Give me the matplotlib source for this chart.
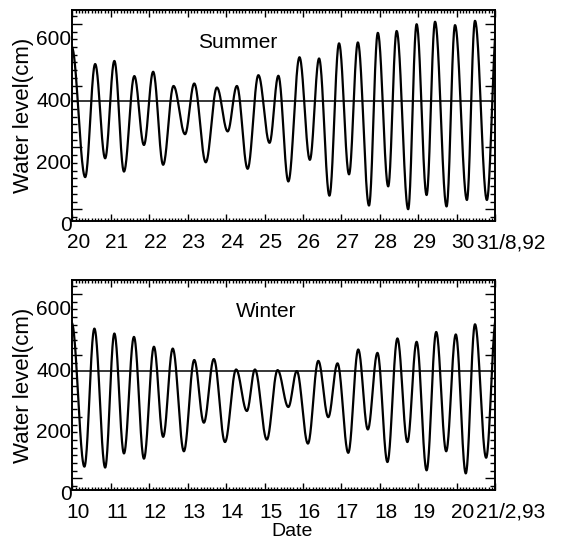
import numpy as np
import matplotlib
matplotlib.use("Agg")
import matplotlib.pyplot as plt
import matplotlib.transforms as mtransforms
from matplotlib.ticker import MultipleLocator

# times (day of month) and heights (cm) of successive high / low waters
summer_times = [19.98, 20.33, 20.59, 20.85, 21.09, 21.34, 21.61, 21.86, 22.10, 22.36,
                22.63, 22.93, 23.17, 23.47, 23.76, 24.04, 24.28, 24.56, 24.84, 25.13,
                25.36, 25.62, 25.91, 26.18, 26.42, 26.69, 26.94, 27.20, 27.43, 27.72,
                27.95, 28.22, 28.44, 28.74, 28.96, 29.22, 29.44, 29.74, 29.96, 30.27,
                30.48, 30.79, 31.05]
summer_levels = [525, 104, 470, 165, 480, 122, 431, 208, 445, 144,
                 399, 243, 407, 152, 394, 252, 399, 131, 434, 215,
                 432, 90, 492, 160, 488, 44, 537, 113, 540, 12,
                 571, 74, 577, 0, 599, 46, 607, 9, 596, 30,
                 610, 30, 600]

winter_times = [9.98, 10.31, 10.57, 10.85, 11.09, 11.34, 11.60, 11.86, 12.12, 12.36,
                12.61, 12.90, 13.17, 13.42, 13.68, 13.97, 14.26, 14.54, 14.75, 15.06,
                15.34, 15.62, 15.84, 16.13, 16.40, 16.66, 16.90, 17.18, 17.44, 17.69,
                17.94, 18.20, 18.46, 18.72, 18.96, 19.22, 19.47, 19.73, 19.98, 20.24,
                20.48, 20.77, 21.03]
winter_levels = [505, 38, 487, 35, 471, 81, 460, 64, 428, 135,
                 422, 88, 385, 181, 388, 118, 354, 219, 354, 126,
                 352, 232, 349, 113, 382, 199, 374, 83, 419, 159,
                 408, 53, 455, 118, 444, 26, 476, 88, 468, 16,
                 501, 67, 520]

mean_level = 350

summer_days = list(range(20, 31))
summer_last = "31/8,92"
winter_days = list(range(10, 21))
winter_last = "21/2,93"
level_ticks = [0, 200, 400, 600]


def tide_curve(times, levels, n=40):
    # half-cosine shape between each high and low water
    tt, hh = [], []
    for i in range(len(times) - 1):
        s = np.linspace(0, 1, n)
        tt.append(times[i] + (times[i + 1] - times[i]) * s)
        hh.append(levels[i] + (levels[i + 1] - levels[i]) * (1 - np.cos(np.pi * s)) / 2)
    return np.concatenate(tt), np.concatenate(hh)


def panel(fig, ax, times, levels, days, last, title, title_x):
    t, h = tide_curve(times, levels)
    ax.plot(t, h, color="black", lw=1.6)
    ax.axhline(mean_level, color="black", lw=1.1)

    ax.set_xlim(days[0], days[0] + 11)
    ax.set_ylim(-38, 645)
    ax.xaxis.set_major_locator(MultipleLocator(1))
    ax.xaxis.set_minor_locator(MultipleLocator(1 / 12))
    ax.yaxis.set_major_locator(MultipleLocator(200))
    ax.yaxis.set_minor_locator(MultipleLocator(25))
    ax.tick_params(which="both", direction="in", top=True, right=True,
                   labelbottom=False, labelleft=False, width=1)
    ax.tick_params(axis="x", which="major", length=5)
    ax.tick_params(axis="x", which="minor", length=2.5)
    ax.tick_params(axis="y", which="major", length=7)
    ax.tick_params(axis="y", which="minor", length=3.5)
    for sp in ax.spines.values():
        sp.set_linewidth(1.4)

    # tick labels sit a little off their ticks
    px = 1 / fig.dpi
    xtr = mtransforms.blended_transform_factory(ax.transData, ax.transAxes)
    for d in days:
        ax.text(d, 0, str(d), fontsize=15, ha="center", va="center",
                transform=xtr + mtransforms.ScaledTranslation(6 * px, -22 * px, fig.dpi_scale_trans))
    ax.text(days[0] + 11, 0, last, fontsize=15, ha="left", va="center",
            transform=xtr + mtransforms.ScaledTranslation(-19 * px, -22 * px, fig.dpi_scale_trans))
    ytr = mtransforms.blended_transform_factory(ax.transAxes, ax.transData)
    for v in level_ticks:
        ax.text(0, v, str(v), fontsize=15, ha="right", va="center",
                transform=ytr + mtransforms.ScaledTranslation(-1 * px, -16 * px, fig.dpi_scale_trans))

    ax.text(-0.115, 0.5, "Water level(cm)", fontsize=16, rotation=90,
            ha="center", va="center", transform=ax.transAxes)
    ax.text(title_x, 0.848, title, fontsize=15, ha="center", va="center",
            transform=ax.transAxes)


def main():
    plt.rcParams["font.family"] = ["Liberation Sans", "DejaVu Sans"]
    fig = plt.figure(figsize=(5.74, 5.45), dpi=100)
    ax1 = fig.add_axes([0.1263, 0.5945, 0.736, 0.3872])
    ax2 = fig.add_axes([0.1263, 0.1009, 0.736, 0.3853])

    panel(fig, ax1, summer_times, summer_levels, summer_days, summer_last, "Summer", 0.392)
    panel(fig, ax2, winter_times, winter_levels, winter_days, winter_last, "Winter", 0.458)

    fig.text(0.509, 0.024, "Date", fontsize=14, ha="center", va="center")
    fig.savefig("out.png", dpi=100)


if __name__ == "__main__":
    main()
